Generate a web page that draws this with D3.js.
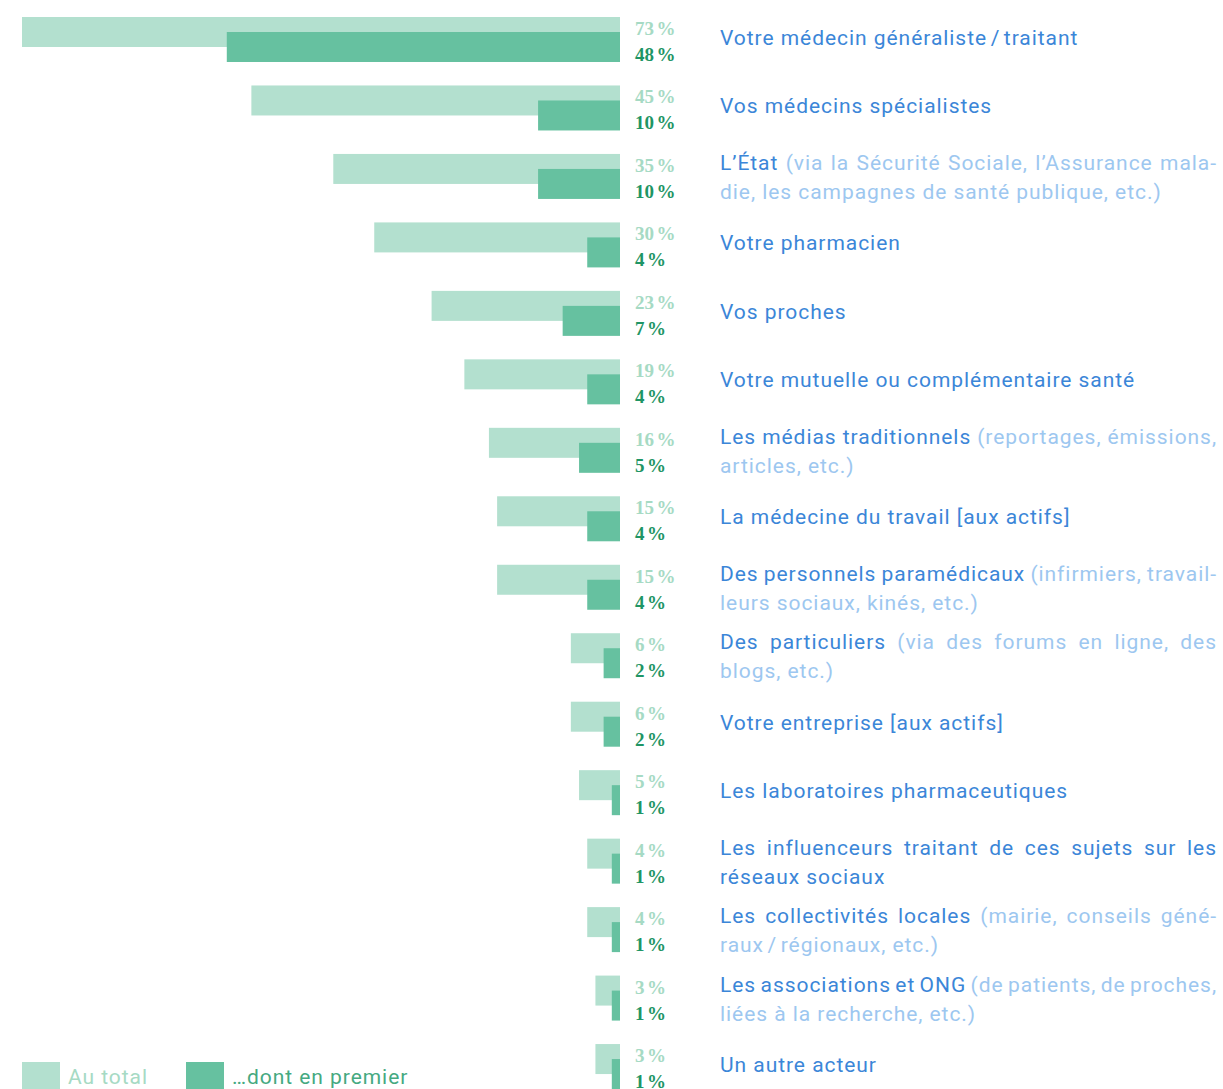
<!DOCTYPE html>
<html lang="fr">
<head>
<meta charset="utf-8">
<script src="https://cdn.jsdelivr.net/npm/d3@7"></script>
<style>
  html, body { margin: 0; padding: 0; background: #ffffff; overflow: hidden; }
  svg { display: block; }
  .lbl { font-family: Roboto, "Noto Sans", sans-serif; font-size: 21px; letter-spacing: 0.95px; }
  .pct { font-family: "Liberation Serif", "DejaVu Serif", serif; font-size: 19px; font-weight: bold; }
</style>
</head>
<body>
<svg id="chart" width="1223" height="1089"></svg>
<script>
// Actors; "|" marks a line break inside a label
const actors = [
  "Votre médecin généraliste\u2009/\u2009traitant",
  "Vos médecins spécialistes",
  "L’État",
  "Votre pharmacien",
  "Vos proches",
  "Votre mutuelle ou complémentaire santé",
  "Les médias traditionnels",
  "La médecine du travail [aux actifs]",
  "Des personnels paramédicaux",
  "Des particuliers",
  "Votre entreprise [aux actifs]",
  "Les laboratoires pharmaceutiques",
  "Les influenceurs traitant de ces sujets sur les|réseaux sociaux",
  "Les collectivités locales",
  "Les associations et ONG",
  "Un autre acteur"
];
// Details shown in parentheses after the actor name
const details = [
  "", "",
  "(via la Sécurité Sociale, l’Assurance mala-|die, les campagnes de santé publique, etc.)",
  "", "", "",
  "(reportages, émissions,|articles, etc.)",
  "",
  "(infirmiers, travail-|leurs sociaux, kinés, etc.)",
  "(via des forums en ligne, des|blogs, etc.)",
  "", "", "",
  "(mairie, conseils géné-|raux\u2009/\u2009régionaux, etc.)",
  "(de patients, de proches,|liées à la recherche, etc.)",
  ""
];
// Share citing each actor (%)
const totalPct = [73, 45, 35, 30, 23, 19, 16, 15, 15, 6, 6, 5, 4, 4, 3, 3];
const firstPct = [48, 10, 10, 4, 7, 4, 5, 4, 4, 2, 2, 1, 1, 1, 1, 1];
const legendLabels = ["Au total", "…dont en premier"];

const colLight = "#b3e0cf", colDark = "#66c1a0";
const txtLight = "#a6dac4", txtDark = "#1f9565";
const colMain = "#3b86d8", colNote = "#9dc7f0";

const svg = d3.select("#chart");
const rows = d3.range(actors.length);

const baseX = 620;
const x = d3.scaleLinear().domain([0, 73]).range([0, 598]);
const y = d3.scaleBand().domain(rows).range([17, 17 + 68.47 * rows.length]).paddingInner(0).paddingOuter(0);
const barH = 30, offset = 15;

// Total bars (light), then first-choice bars (dark) overlapping below
svg.append("g").selectAll("rect").data(rows).join("rect")
  .attr("x", i => baseX - x(totalPct[i]))
  .attr("y", i => y(i))
  .attr("width", i => x(totalPct[i]))
  .attr("height", barH)
  .attr("fill", colLight);

svg.append("g").selectAll("rect").data(rows).join("rect")
  .attr("x", i => baseX - x(firstPct[i]))
  .attr("y", i => y(i) + offset)
  .attr("width", i => x(firstPct[i]))
  .attr("height", barH)
  .attr("fill", colDark);

// Percent values: number, then a slightly detached % sign
const pctG = svg.append("g").attr("class", "pct");
function pctLabel(sel, values, dy, color) {
  const t = sel.append("text").attr("x", 635).attr("y", dy).attr("fill", color);
  t.append("tspan").text(values);
  t.append("tspan").attr("dx", 2.5).text("%");
}
rows.forEach(i => {
  pctLabel(pctG, totalPct[i], y(i) + 18, txtLight);
  pctLabel(pctG, firstPct[i], y(i) + 44, txtDark);
});

// Labels: word-by-word layout, justified on non-final lines
const labelX = 720, labelRight = 1217, lineH = 29;
const lblG = svg.append("g").attr("class", "lbl");

function measure(word) {
  const t = lblG.append("text").text(word);
  const w = t.node().getComputedTextLength();
  t.remove();
  return w;
}
const spaceW = measure("a a") - measure("aa");

rows.forEach(i => {
  // Build lines of {word, color}
  const lines = [[]];
  const pushPart = (str, color) => {
    if (!str) return;
    str.split("|").forEach((seg, k) => {
      if (k > 0) lines.push([]);
      seg.split(" ").filter(s => s.length).forEach(w => lines[lines.length - 1].push({ w, color }));
    });
  };
  pushPart(actors[i], colMain);
  pushPart(details[i], colNote);

  const n = lines.length;
  const rowTop = y(i);
  const firstBase = n === 1 ? rowTop + 28 : rowTop + 16;
  lines.forEach((words, li) => {
    const widths = words.map(d => measure(d.w));
    const sum = d3.sum(widths);
    const justify = li < n - 1 && words.length > 1;
    const gap = justify ? (labelRight - labelX - sum) / (words.length - 1) : spaceW;
    let cx = labelX;
    words.forEach((d, k) => {
      lblG.append("text")
        .attr("x", cx)
        .attr("y", firstBase + li * lineH)
        .attr("fill", d.color)
        .text(d.w);
      cx += widths[k] + gap;
    });
  });
});

// Legend
const leg = svg.append("g").attr("class", "lbl");
const legItems = [
  { x: 22, fill: colLight, text: "#a6dac4", label: legendLabels[0] },
  { x: 186, fill: colDark, text: "#45a981", label: legendLabels[1] }
];
legItems.forEach(d => {
  leg.append("rect").attr("x", d.x).attr("y", 1062).attr("width", 38).attr("height", 38).attr("fill", d.fill);
  leg.append("text").attr("x", d.x + 46).attr("y", 1084).attr("fill", d.text).text(d.label);
});
</script>
</body>
</html>
